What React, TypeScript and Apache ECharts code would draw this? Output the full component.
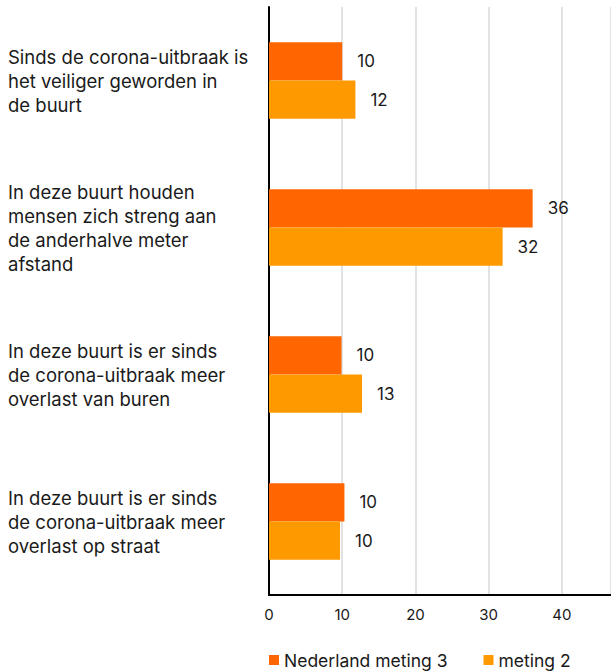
import React, { useEffect, useRef } from "react";
import * as echarts from "echarts";

const categories = [
  "Sinds de corona-uitbraak is\nhet veiliger geworden in\nde buurt",
  "In deze buurt houden\nmensen zich streng aan\nde anderhalve meter\nafstand",
  "In deze buurt is er sinds\nde corona-uitbraak meer\noverlast van buren",
  "In deze buurt is er sinds\nde corona-uitbraak meer\noverlast op straat",
];
const meting3 = [10.0, 36.0, 9.9, 10.3];
const meting2 = [11.8, 31.9, 12.7, 9.7];
const seriesNames = ["Nederland meting 3", "meting 2"];
const xTicks = [0, 10, 20, 30, 40];

const FONT = "Inter";

export default function App() {
  const ref = useRef<HTMLDivElement>(null);
  useEffect(() => {
    if (!ref.current) return;
    const chart = echarts.init(ref.current, null, { renderer: "svg" });
    const labelCfg = {
      show: true,
      position: "right",
      distance: 15,
      color: "#1a1a1a",
      fontSize: 17,
      fontFamily: FONT,
      formatter: (p: any) => String(Math.round(p.value)),
    };
    chart.setOption({
      animation: false,
      textStyle: { fontFamily: FONT },
      grid: { left: 269, right: 0, top: 7, bottom: 77, containLabel: false },
      legend: {
        left: 264,
        top: 646,
        itemWidth: 10,
        itemHeight: 10,
        itemGap: 36,
        icon: "rect",
        textStyle: { fontSize: 17.5, color: "#1a1a1a", fontFamily: FONT },
        data: seriesNames,
      },
      xAxis: {
        type: "value",
        min: 0,
        max: 46.7,
        interval: 10,
        axisLine: { show: true, lineStyle: { color: "#000", width: 2 } },
        axisTick: { show: false },
        splitLine: { show: true, lineStyle: { color: "#d9d9d9", width: 1.5 } },
        axisLabel: {
          showMaxLabel: false,
          margin: 12,
          fontSize: 15,
          color: "#1a1a1a",
          fontFamily: FONT,
          formatter: (v: number) => (xTicks.includes(v) ? String(v) : ""),
        },
      },
      yAxis: {
        type: "category",
        inverse: true,
        data: categories,
        axisLine: { show: true, lineStyle: { color: "#000", width: 2 } },
        axisTick: { show: false },
        axisLabel: {
          align: "left",
          margin: 261,
          fontSize: 18.5,
          lineHeight: 24,
          color: "#1a1a1a",
          fontFamily: FONT,
        },
      },
      series: [
        {
          name: seriesNames[0],
          type: "bar",
          data: meting3,
          barGap: "0%",
          barCategoryGap: "48%",
          itemStyle: { color: "#FF6600" },
          label: labelCfg,
        },
        {
          name: seriesNames[1],
          type: "bar",
          data: meting2,
          barGap: "0%",
          barCategoryGap: "48%",
          itemStyle: { color: "#FF9900" },
          label: labelCfg,
        },
      ],
    });
    return () => chart.dispose();
  }, []);
  return (
    <div
      ref={ref}
      style={{ position: "fixed", left: 0, top: 0, width: 611, height: 672, background: "#fff" }}
    />
  );
}
